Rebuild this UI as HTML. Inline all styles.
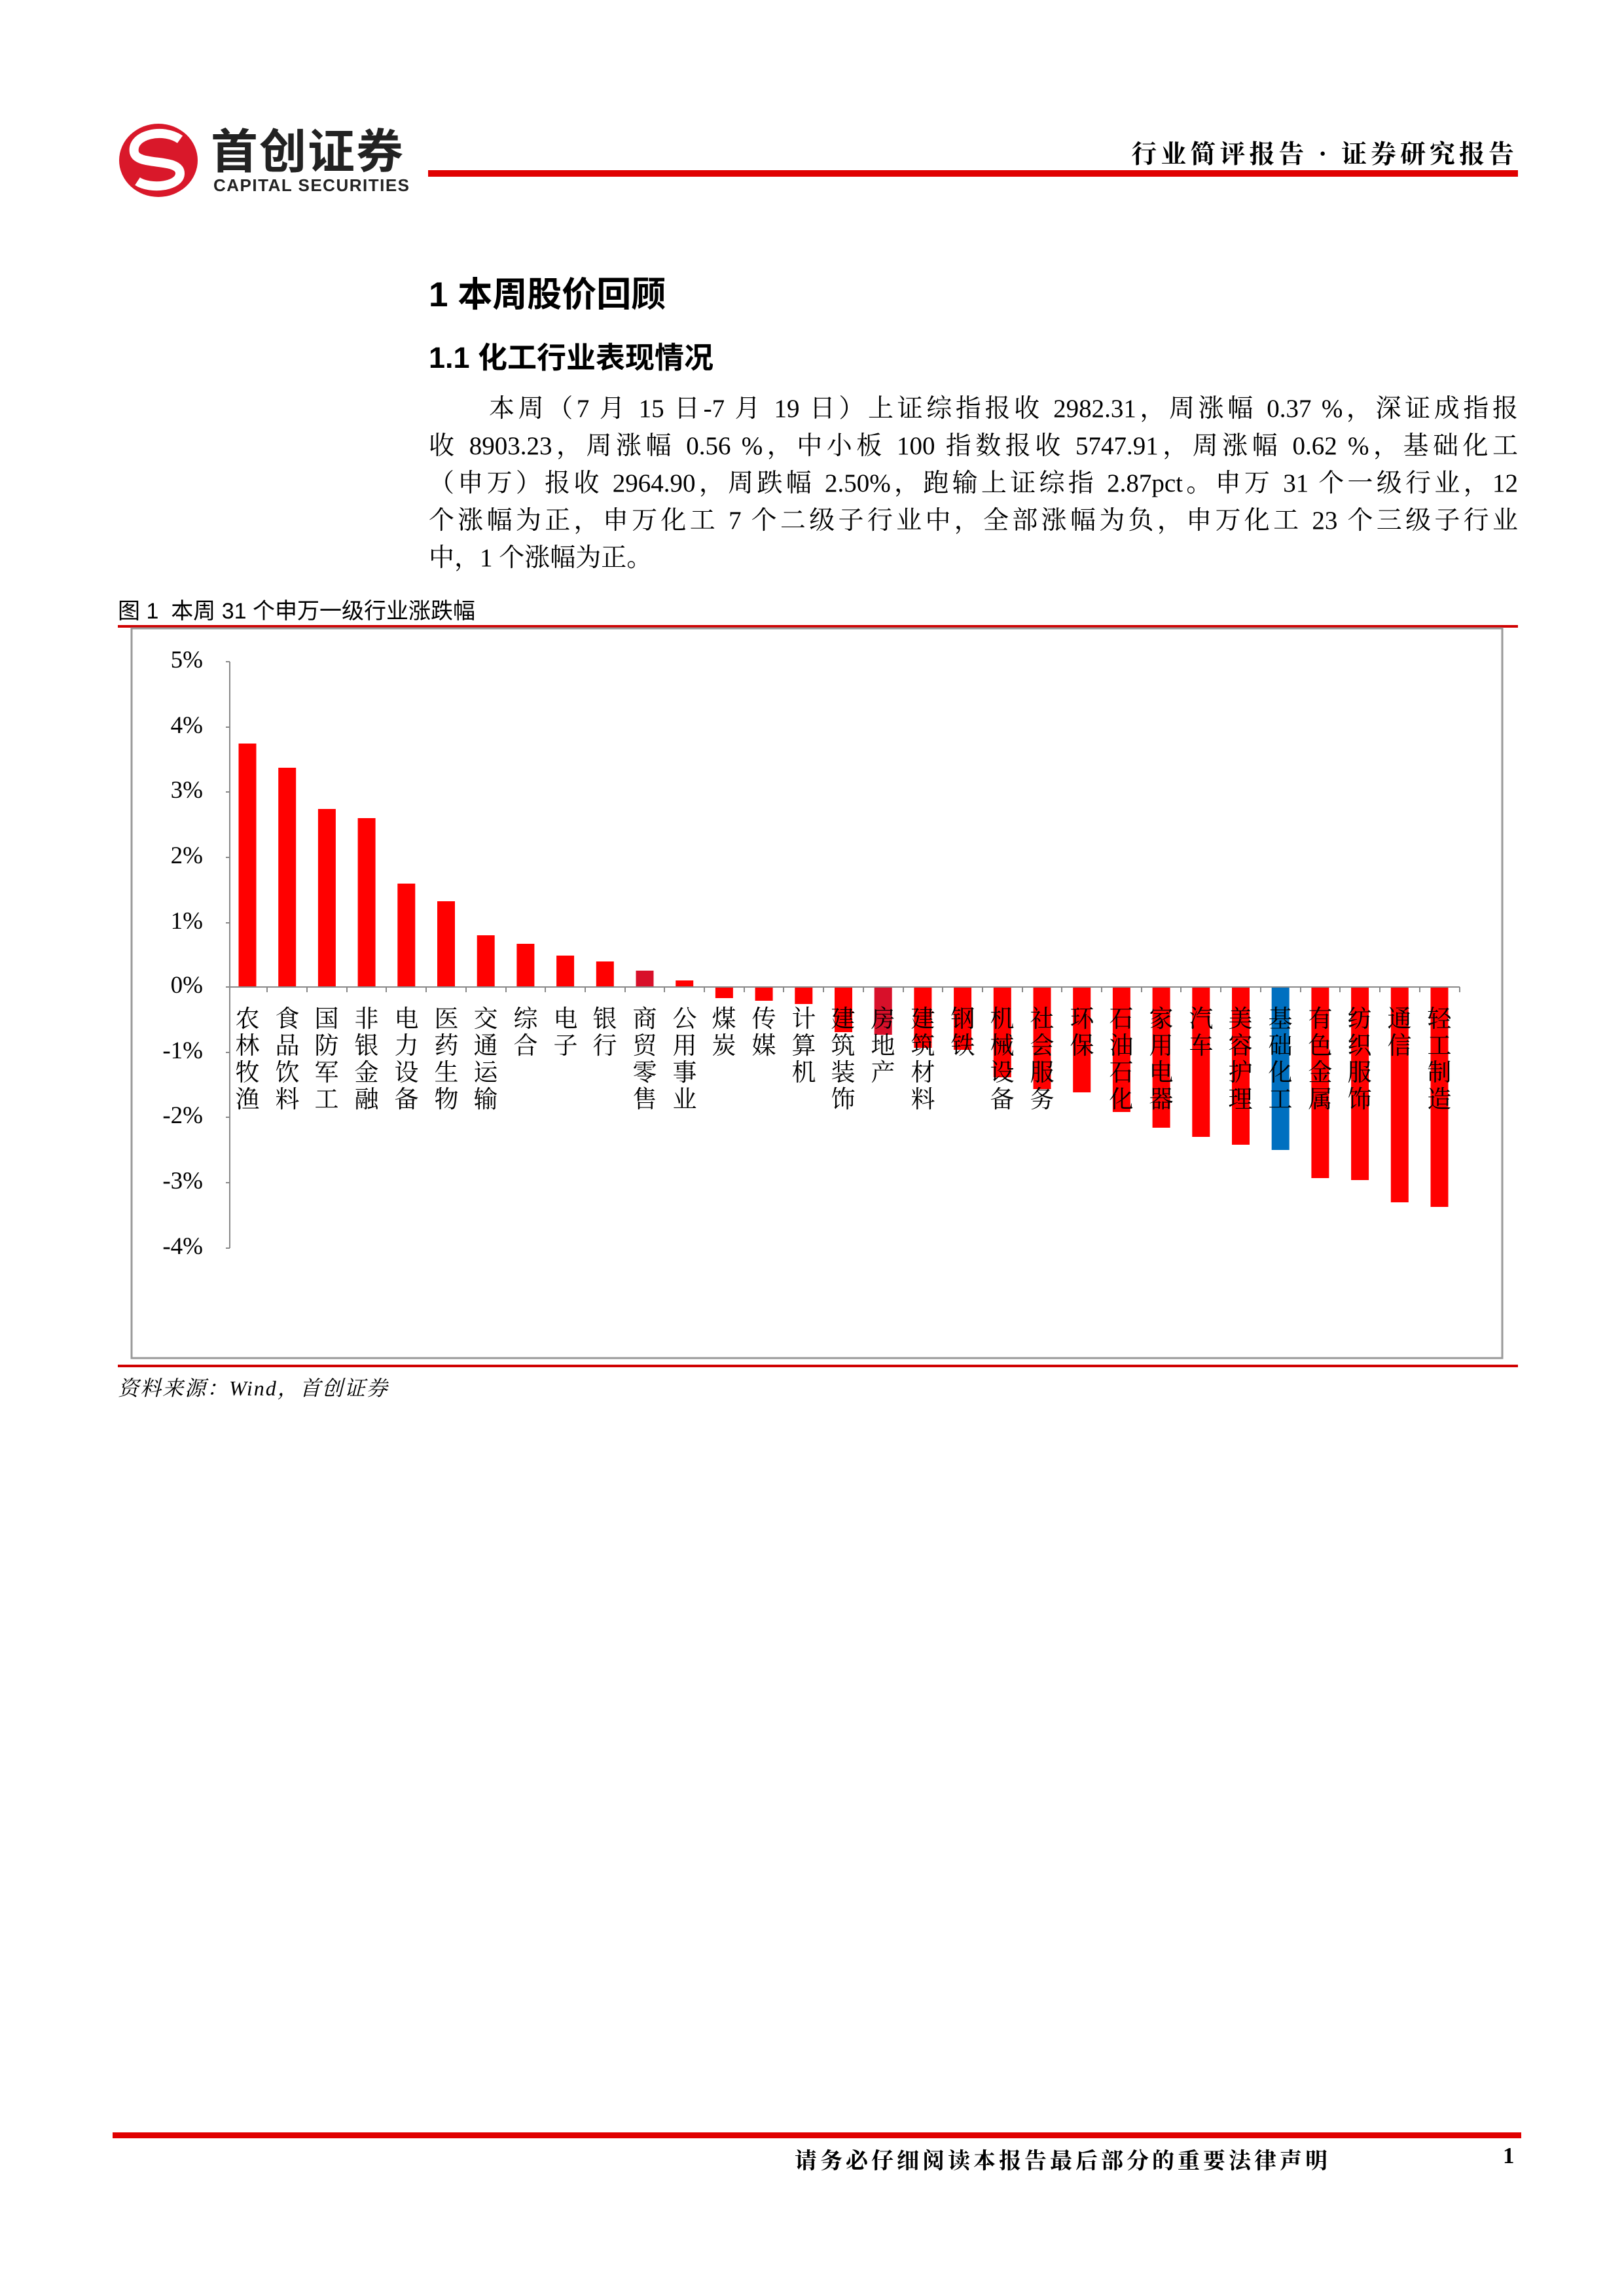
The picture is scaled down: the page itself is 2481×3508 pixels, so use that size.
<!DOCTYPE html>
<html><head><meta charset="utf-8">
<style>
html,body{margin:0;padding:0;background:#fff;}
body{width:2481px;height:3508px;position:relative;overflow:hidden;font-family:"Liberation Serif","Noto Serif CJK SC",serif;color:#000;}
.a{position:absolute;white-space:nowrap;}
.line{position:absolute;left:655px;width:1664px;font-size:39px;line-height:57px;text-align:justify;text-align-last:justify;white-space:nowrap;}
.lab{position:absolute;top:1533px;width:44px;text-align:center;font-size:37px;line-height:41px;font-family:"Noto Serif CJK SC","Liberation Serif",serif;}
.tk{position:absolute;width:130px;text-align:right;font-size:37px;font-family:"Liberation Serif",serif;left:180px;}
</style></head><body>
<svg class="a" style="left:180px;top:185px" width="130" height="120" viewBox="0 0 130 120">
 <ellipse cx="62" cy="60" rx="60" ry="56" fill="#d9182a"/>
 <path d="M95 28 C70 10 20 20 25 48 C30 70 95 55 95 80 C95 100 50 105 30 92" stroke="#fff" stroke-width="14" fill="none"/>
</svg>
<div class="a" style="left:322px;top:186px;font-size:72px;font-weight:bold;font-family:'Noto Sans CJK SC',sans-serif;line-height:80px;color:#222;letter-spacing:2px">首创证券</div>
<div class="a" style="left:326px;top:268px;font-size:26px;font-weight:bold;font-family:'Liberation Sans',sans-serif;color:#222;letter-spacing:1.5px">CAPITAL SECURITIES</div>
<div class="a" style="left:654px;top:260px;width:1665px;height:10px;background:#e00000"></div>
<div class="a" style="right:162px;top:205px;font-size:39px;font-weight:bold;font-family:'Noto Serif CJK SC',serif;letter-spacing:6px">行业简评报告 · 证券研究报告</div>

<div class="a" style="left:655px;top:408px;font-size:53px;font-weight:bold;font-family:'Liberation Sans','Noto Sans CJK SC',sans-serif">1 本周股价回顾</div>
<div class="a" style="left:655px;top:510px;font-size:45px;font-weight:bold;font-family:'Liberation Sans','Noto Sans CJK SC',sans-serif">1.1 化工行业表现情况</div>

<div class="line" style="top:596px;padding-left:92px;width:1572px">本周（7 月 15 日-7 月 19 日）上证综指报收 2982.31，周涨幅 0.37 %，深证成指报</div>
<div class="line" style="top:653px">收 8903.23，周涨幅 0.56 %，中小板 100 指数报收 5747.91，周涨幅 0.62 %，基础化工</div>
<div class="line" style="top:710px">（申万）报收 2964.90，周跌幅 2.50%，跑输上证综指 2.87pct。申万 31 个一级行业，12</div>
<div class="line" style="top:767px">个涨幅为正，申万化工 7 个二级子行业中，全部涨幅为负，申万化工 23 个三级子行业</div>
<div class="line" style="top:824px;text-align-last:left">中，1 个涨幅为正。</div>

<div class="a" style="left:180px;top:906px;font-size:34px;font-family:'Liberation Sans','Noto Sans CJK SC',sans-serif">图 1&nbsp; 本周 31 个申万一级行业涨跌幅</div>
<div class="a" style="left:180px;top:955px;width:2139px;height:4px;background:#d00000"></div>
<div class="a" style="left:180px;top:2085px;width:2139px;height:4px;background:#d00000"></div>
<div class="a" style="left:180px;top:2096px;font-size:32px;font-style:italic;font-family:'Liberation Serif','Noto Serif CJK SC',serif;letter-spacing:2px">资料来源：Wind，首创证券</div>

<svg class="a" style="left:0;top:0" width="2481" height="2200">
 <rect x="201" y="960" width="2094" height="1115" fill="none" stroke="#999" stroke-width="3"/>
 <g stroke="#888" stroke-width="2">
  <line x1="351" y1="1011" x2="351" y2="1907"/>
  <line x1="345" y1="1011" x2="351" y2="1011"/><line x1="345" y1="1111" x2="351" y2="1111"/>
  <line x1="345" y1="1210" x2="351" y2="1210"/><line x1="345" y1="1310" x2="351" y2="1310"/>
  <line x1="345" y1="1410" x2="351" y2="1410"/><line x1="345" y1="1508" x2="351" y2="1508"/>
  <line x1="345" y1="1608" x2="351" y2="1608"/><line x1="345" y1="1707" x2="351" y2="1707"/>
  <line x1="345" y1="1807" x2="351" y2="1807"/><line x1="345" y1="1907" x2="351" y2="1907"/>
 </g>
 <g fill="#ff0000">
  <rect x="364.5" y="1136" width="27" height="372"/>
  <rect x="425.2" y="1173" width="27" height="335"/>
  <rect x="485.9" y="1236" width="27" height="272"/>
  <rect x="546.6" y="1250" width="27" height="258"/>
  <rect x="607.3" y="1350" width="27" height="158"/>
  <rect x="668" y="1377" width="27" height="131"/>
  <rect x="728.7" y="1429" width="27" height="79"/>
  <rect x="789.4" y="1442" width="27" height="66"/>
  <rect x="850.1" y="1460" width="27" height="48"/>
  <rect x="910.8" y="1469" width="27" height="39"/>
  <rect x="971.5" y="1483" width="27" height="25" fill="#d8102a"/>
  <rect x="1032.2" y="1498" width="27" height="10"/>
  <rect x="1092.9" y="1508" width="27" height="17"/>
  <rect x="1153.6" y="1508" width="27" height="21"/>
  <rect x="1214.3" y="1508" width="27" height="26"/>
  <rect x="1275" y="1508" width="27" height="69"/>
  <rect x="1335.7" y="1508" width="27" height="73" fill="#d8102a"/>
  <rect x="1396.4" y="1508" width="27" height="93"/>
  <rect x="1457.1" y="1508" width="27" height="96"/>
  <rect x="1517.8" y="1508" width="27" height="138"/>
  <rect x="1578.5" y="1508" width="27" height="156"/>
  <rect x="1639.2" y="1508" width="27" height="161"/>
  <rect x="1699.9" y="1508" width="27" height="191"/>
  <rect x="1760.6" y="1508" width="27" height="215"/>
  <rect x="1821.3" y="1508" width="27" height="229"/>
  <rect x="1882" y="1508" width="27" height="241"/>
  <rect x="1942.7" y="1508" width="27" height="249" fill="#0070c0"/>
  <rect x="2003.4" y="1508" width="27" height="292"/>
  <rect x="2064.1" y="1508" width="27" height="295"/>
  <rect x="2124.8" y="1508" width="27" height="329"/>
  <rect x="2185.5" y="1508" width="27" height="336"/>
 </g>
 <g stroke="#888" stroke-width="2">
  <line x1="351" y1="1508" x2="2230" y2="1508"/>
  <line x1="408" y1="1508" x2="408" y2="1516"/><line x1="469" y1="1508" x2="469" y2="1516"/>
  <line x1="530" y1="1508" x2="530" y2="1516"/><line x1="590" y1="1508" x2="590" y2="1516"/>
  <line x1="651" y1="1508" x2="651" y2="1516"/><line x1="712" y1="1508" x2="712" y2="1516"/>
  <line x1="773" y1="1508" x2="773" y2="1516"/><line x1="833" y1="1508" x2="833" y2="1516"/>
  <line x1="894" y1="1508" x2="894" y2="1516"/><line x1="955" y1="1508" x2="955" y2="1516"/>
  <line x1="1015" y1="1508" x2="1015" y2="1516"/><line x1="1076" y1="1508" x2="1076" y2="1516"/>
  <line x1="1137" y1="1508" x2="1137" y2="1516"/><line x1="1197" y1="1508" x2="1197" y2="1516"/>
  <line x1="1258" y1="1508" x2="1258" y2="1516"/><line x1="1319" y1="1508" x2="1319" y2="1516"/>
  <line x1="1380" y1="1508" x2="1380" y2="1516"/><line x1="1440" y1="1508" x2="1440" y2="1516"/>
  <line x1="1501" y1="1508" x2="1501" y2="1516"/><line x1="1562" y1="1508" x2="1562" y2="1516"/>
  <line x1="1622" y1="1508" x2="1622" y2="1516"/><line x1="1683" y1="1508" x2="1683" y2="1516"/>
  <line x1="1744" y1="1508" x2="1744" y2="1516"/><line x1="1804" y1="1508" x2="1804" y2="1516"/>
  <line x1="1865" y1="1508" x2="1865" y2="1516"/><line x1="1926" y1="1508" x2="1926" y2="1516"/>
  <line x1="1987" y1="1508" x2="1987" y2="1516"/><line x1="2047" y1="1508" x2="2047" y2="1516"/>
  <line x1="2108" y1="1508" x2="2108" y2="1516"/><line x1="2169" y1="1508" x2="2169" y2="1516"/>
  <line x1="2230" y1="1508" x2="2230" y2="1516"/>
 </g>
</svg>

<div class="tk" style="top:987px">5%</div>
<div class="tk" style="top:1087px">4%</div>
<div class="tk" style="top:1186px">3%</div>
<div class="tk" style="top:1286px">2%</div>
<div class="tk" style="top:1386px">1%</div>
<div class="tk" style="top:1484px">0%</div>
<div class="tk" style="top:1584px">-1%</div>
<div class="tk" style="top:1683px">-2%</div>
<div class="tk" style="top:1783px">-3%</div>
<div class="tk" style="top:1883px">-4%</div>

<div class="lab" style="left:356px">农<br>林<br>牧<br>渔</div>
<div class="lab" style="left:417px">食<br>品<br>饮<br>料</div>
<div class="lab" style="left:477px">国<br>防<br>军<br>工</div>
<div class="lab" style="left:538px">非<br>银<br>金<br>融</div>
<div class="lab" style="left:599px">电<br>力<br>设<br>备</div>
<div class="lab" style="left:660px">医<br>药<br>生<br>物</div>
<div class="lab" style="left:720px">交<br>通<br>运<br>输</div>
<div class="lab" style="left:781px">综<br>合</div>
<div class="lab" style="left:842px">电<br>子</div>
<div class="lab" style="left:902px">银<br>行</div>
<div class="lab" style="left:963px">商<br>贸<br>零<br>售</div>
<div class="lab" style="left:1024px">公<br>用<br>事<br>业</div>
<div class="lab" style="left:1084px">煤<br>炭</div>
<div class="lab" style="left:1145px">传<br>媒</div>
<div class="lab" style="left:1206px">计<br>算<br>机</div>
<div class="lab" style="left:1266px">建<br>筑<br>装<br>饰</div>
<div class="lab" style="left:1327px">房<br>地<br>产</div>
<div class="lab" style="left:1388px">建<br>筑<br>材<br>料</div>
<div class="lab" style="left:1449px">钢<br>铁</div>
<div class="lab" style="left:1509px">机<br>械<br>设<br>备</div>
<div class="lab" style="left:1570px">社<br>会<br>服<br>务</div>
<div class="lab" style="left:1631px">环<br>保</div>
<div class="lab" style="left:1691px">石<br>油<br>石<br>化</div>
<div class="lab" style="left:1752px">家<br>用<br>电<br>器</div>
<div class="lab" style="left:1813px">汽<br>车</div>
<div class="lab" style="left:1873px">美<br>容<br>护<br>理</div>
<div class="lab" style="left:1934px">基<br>础<br>化<br>工</div>
<div class="lab" style="left:1995px">有<br>色<br>金<br>属</div>
<div class="lab" style="left:2055px">纺<br>织<br>服<br>饰</div>
<div class="lab" style="left:2116px">通<br>信</div>
<div class="lab" style="left:2177px">轻<br>工<br>制<br>造</div>

<div class="a" style="left:172px;top:3258px;width:2152px;height:9px;background:#e00000"></div>
<div class="a" style="left:1214px;top:3274px;font-size:34px;font-weight:bold;font-family:'Noto Serif CJK SC',serif;letter-spacing:5px">请务必仔细阅读本报告最后部分的重要法律声明</div>
<div class="a" style="left:2296px;top:3274px;font-size:35px;font-weight:bold;font-family:'Liberation Serif',serif">1</div>
</body></html>
